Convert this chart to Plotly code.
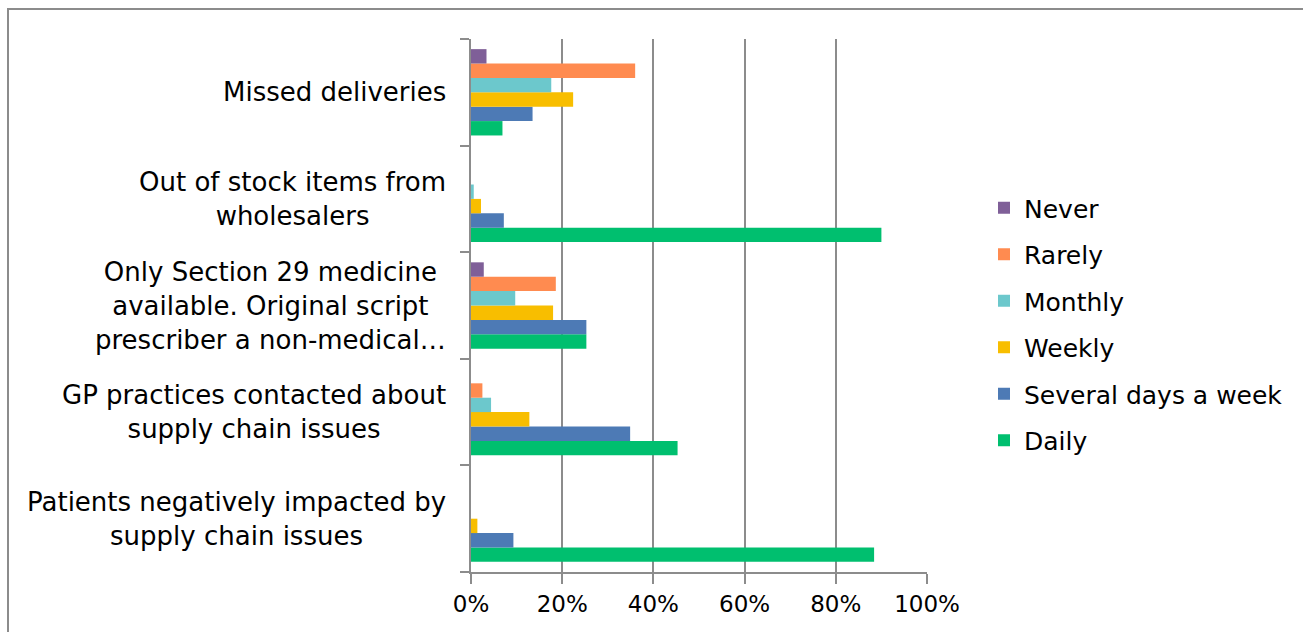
import plotly.graph_objects as go

categories = [
    "Missed deliveries",
    "Out of stock items from<br>wholesalers",
    "Only Section 29 medicine<br>available. Original script<br>prescriber a non-medical…",
    "GP practices contacted about<br>supply chain issues",
    "Patients negatively impacted by<br>supply chain issues",
]
series_names = ["Never", "Rarely", "Monthly", "Weekly", "Several days a week", "Daily"]
never = [0.034, 0.0, 0.028, 0.0, 0.0]
rarely = [0.360, 0.0, 0.186, 0.025, 0.0]
monthly = [0.176, 0.006, 0.097, 0.044, 0.0]
weekly = [0.224, 0.022, 0.180, 0.128, 0.014]
several = [0.135, 0.072, 0.253, 0.349, 0.093]
daily = [0.069, 0.900, 0.253, 0.453, 0.884]
x_ticks = [0, 0.2, 0.4, 0.6, 0.8, 1.0]
x_tick_labels = ["0%", "20%", "40%", "60%", "80%", "100%"]

colors = {
    "Never": "#7f5f98",
    "Rarely": "#ff8b50",
    "Monthly": "#6cc8cc",
    "Weekly": "#f8be00",
    "Several days a week": "#4d7ab5",
    "Daily": "#00bf6f",
}
values = {
    "Never": never, "Rarely": rarely, "Monthly": monthly,
    "Weekly": weekly, "Several days a week": several, "Daily": daily,
}

FONT = "DejaVu Sans"
W, H = 1303, 632
L, R, T, B = 471, 376, 39, 60
pw, ph = W - L - R, H - T - B

fig = go.Figure()
for name in reversed(series_names):
    fig.add_trace(go.Bar(
        y=categories, x=values[name], name=name, orientation="h",
        marker=dict(color=colors[name], line=dict(width=0)),
        legendgroup=name, legendrank=series_names.index(name) + 1,
    ))

def px_x(p):
    return (p - L) / pw

def px_y(p):
    return (H - B - p) / ph

annotations = []
for c in categories:
    annotations.append(dict(
        x=px_x(448), xref="paper", y=c, yref="y", text=c,
        xanchor="right", yanchor="middle", align="center", showarrow=False,
        font=dict(family=FONT, size=26, color="#000000"),
    ))

fig.update_layout(
    width=W, height=H,
    margin=dict(l=L, r=R, t=T, b=B),
    paper_bgcolor="white", plot_bgcolor="white",
    barmode="group", bargap=0.19, bargroupgap=0,
    font=dict(family=FONT, size=23, color="#000000"),
    legend=dict(
        traceorder="grouped", x=px_x(984), xanchor="left",
        y=px_y(324), yanchor="middle", tracegroupgap=11,
        font=dict(family=FONT, size=25, color="#000000"),
        itemwidth=30,
    ),
    xaxis=dict(
        range=[0, 1], tickvals=x_ticks, ticktext=x_tick_labels,
        showgrid=True, gridcolor="#8c8c8c", gridwidth=2,
        showline=True, linecolor="#8c8c8c", linewidth=2,
        ticks="outside", ticklen=10, tickwidth=2, tickcolor="#8c8c8c",
        zeroline=False, tickfont=dict(family=FONT, size=23),
    ),
    yaxis=dict(
        categoryorder="array", categoryarray=list(reversed(categories)),
        showticklabels=False, showgrid=False,
        showline=True, linecolor="#8c8c8c", linewidth=2,
        ticks="outside", tickson="boundaries", ticklen=9, tickwidth=2,
        tickcolor="#8c8c8c", zeroline=False,
    ),
    annotations=annotations,
    shapes=[dict(
        type="rect", xref="paper", yref="paper",
        x0=px_x(8), x1=px_x(1320), y0=px_y(9), y1=px_y(650),
        line=dict(color="#8c8c8c", width=2), fillcolor="rgba(0,0,0,0)",
        layer="below",
    )],
)

fig.write_html("out.html")
